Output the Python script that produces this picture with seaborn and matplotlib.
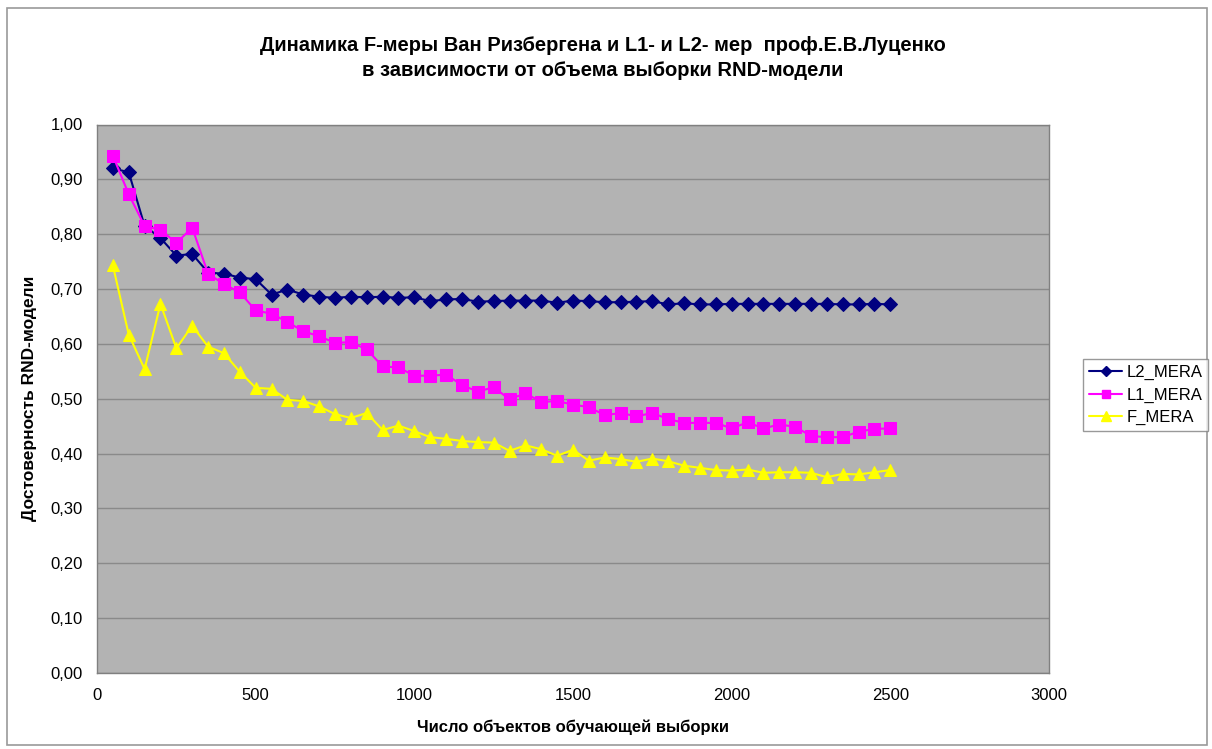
import matplotlib
matplotlib.use("Agg")
import matplotlib.pyplot as plt
from matplotlib.ticker import FuncFormatter, MultipleLocator
from matplotlib.patches import Rectangle
import seaborn as sns
import pandas as pd

sample_sizes = [50, 100, 150, 200, 250, 300, 350, 400, 450, 500,
                550, 600, 650, 700, 750, 800, 850, 900, 950, 1000,
                1050, 1100, 1150, 1200, 1250, 1300, 1350, 1400, 1450, 1500,
                1550, 1600, 1650, 1700, 1750, 1800, 1850, 1900, 1950, 2000,
                2050, 2100, 2150, 2200, 2250, 2300, 2350, 2400, 2450, 2500]

l2_mera = [0.920, 0.913, 0.815, 0.793, 0.761, 0.764, 0.730, 0.728, 0.721, 0.718,
           0.690, 0.699, 0.690, 0.686, 0.684, 0.686, 0.685, 0.686, 0.684, 0.685,
           0.678, 0.681, 0.682, 0.677, 0.678, 0.679, 0.679, 0.679, 0.675, 0.679,
           0.678, 0.676, 0.676, 0.677, 0.678, 0.672, 0.674, 0.672, 0.672, 0.673,
           0.673, 0.673, 0.673, 0.673, 0.673, 0.673, 0.672, 0.672, 0.673, 0.672]

l1_mera = [0.943, 0.873, 0.815, 0.808, 0.784, 0.812, 0.728, 0.709, 0.694, 0.661,
           0.655, 0.640, 0.623, 0.614, 0.602, 0.603, 0.590, 0.559, 0.557, 0.542,
           0.542, 0.544, 0.525, 0.513, 0.521, 0.499, 0.510, 0.494, 0.496, 0.489,
           0.485, 0.470, 0.474, 0.468, 0.474, 0.463, 0.456, 0.456, 0.456, 0.446,
           0.457, 0.446, 0.453, 0.449, 0.432, 0.430, 0.430, 0.440, 0.445, 0.446]

f_mera = [0.743, 0.617, 0.554, 0.673, 0.592, 0.633, 0.595, 0.583, 0.549, 0.520,
          0.518, 0.498, 0.496, 0.486, 0.472, 0.465, 0.474, 0.443, 0.451, 0.441,
          0.430, 0.427, 0.423, 0.421, 0.420, 0.405, 0.415, 0.408, 0.396, 0.407,
          0.387, 0.393, 0.390, 0.385, 0.391, 0.386, 0.378, 0.374, 0.370, 0.369,
          0.371, 0.365, 0.366, 0.366, 0.365, 0.357, 0.363, 0.362, 0.366, 0.370]

series_names = ["L2_MERA", "L1_MERA", "F_MERA"]
series_values = [l2_mera, l1_mera, f_mera]
colors = {"L2_MERA": "#000080", "L1_MERA": "#FF00FF", "F_MERA": "#FFFF00"}
markers = {"L2_MERA": "D", "L1_MERA": "s", "F_MERA": "^"}

title = ("Динамика F-меры Ван Ризбергена и L1- и L2- мер  проф.Е.В.Луценко\n"
         "в зависимости от объема выборки RND-модели")
xlabel = "Число объектов обучающей выборки"
ylabel = "Достоверность RND-модели"

rows = []
for name, vals in zip(series_names, series_values):
    for x, v in zip(sample_sizes, vals):
        rows.append({"x": x, "value": v, "series": name})
df = pd.DataFrame(rows)

sns.set_theme(style="white")
plt.rcParams["font.family"] = ["Liberation Sans", "DejaVu Sans"]
plt.rcParams["text.color"] = "black"
plt.rcParams["axes.labelcolor"] = "black"
plt.rcParams["xtick.color"] = "black"
plt.rcParams["ytick.color"] = "black"

fig = plt.figure(figsize=(12.12, 7.49), dpi=100)
ax = fig.add_axes([97 / 1212, 1 - 673 / 749, (1049 - 97) / 1212, (673 - 124.5) / 749])
ax.set_facecolor("#B3B3B3")

sizes = {"L2_MERA": 7, "L1_MERA": 8, "F_MERA": 9}
for name in series_names:
    sub = df[df["series"] == name]
    sns.lineplot(data=sub, x="x", y="value", ax=ax, color=colors[name],
                 marker=markers[name], markersize=sizes[name],
                 markeredgecolor=colors[name], linewidth=1.5, label=name,
                 legend=False)

ax.set_xlim(0, 3000)
ax.set_ylim(0, 1.0)
ax.xaxis.set_major_locator(MultipleLocator(500))
ax.yaxis.set_major_locator(MultipleLocator(0.1))
ax.yaxis.set_major_formatter(FuncFormatter(lambda v, p: f"{v:.2f}".replace(".", ",")))
ax.grid(axis="y", color="#8A8A8A", linewidth=1.0)
ax.set_axisbelow(True)
for s in ax.spines.values():
    s.set_color("#808080")
    s.set_linewidth(1.0)
ax.tick_params(axis="both", which="major", direction="out", length=5, width=1,
               color="#808080", labelsize=12, labelcolor="#000000")
ax.tick_params(axis="y", pad=5)
ax.tick_params(axis="x", pad=6)

ax.set_xlabel(xlabel, fontsize=12, fontweight="bold", labelpad=12)
ax.set_ylabel(ylabel, fontsize=12.5, fontweight="bold", labelpad=10)

fig.text(603 / 1212, 1 - 58 / 749, title, ha="center", va="center",
         fontsize=14.5, fontweight="bold", linespacing=1.45, color="black")

handles = [plt.Line2D([], [], color=colors[n], marker=markers[n],
                      markersize=sizes[n] - 2, linewidth=1.5) for n in series_names]
leg = fig.legend(handles, series_names, loc="upper left",
                 bbox_to_anchor=(1083 / 1212, 1 - 359 / 749), fontsize=12,
                 frameon=True, fancybox=False, handlelength=2.0,
                 handletextpad=0.25, borderpad=0.35, labelspacing=0.45,
                 borderaxespad=0)
leg.get_frame().set_edgecolor("#808080")
leg.get_frame().set_linewidth(1.0)

fig.patches.append(Rectangle((7 / 1212, 1 - 745 / 749), (1207 - 7) / 1212, (745 - 8) / 749,
                             transform=fig.transFigure, fill=False,
                             edgecolor="#9A9A9A", linewidth=1.2))

fig.savefig("out.png", dpi=100, facecolor="white")
